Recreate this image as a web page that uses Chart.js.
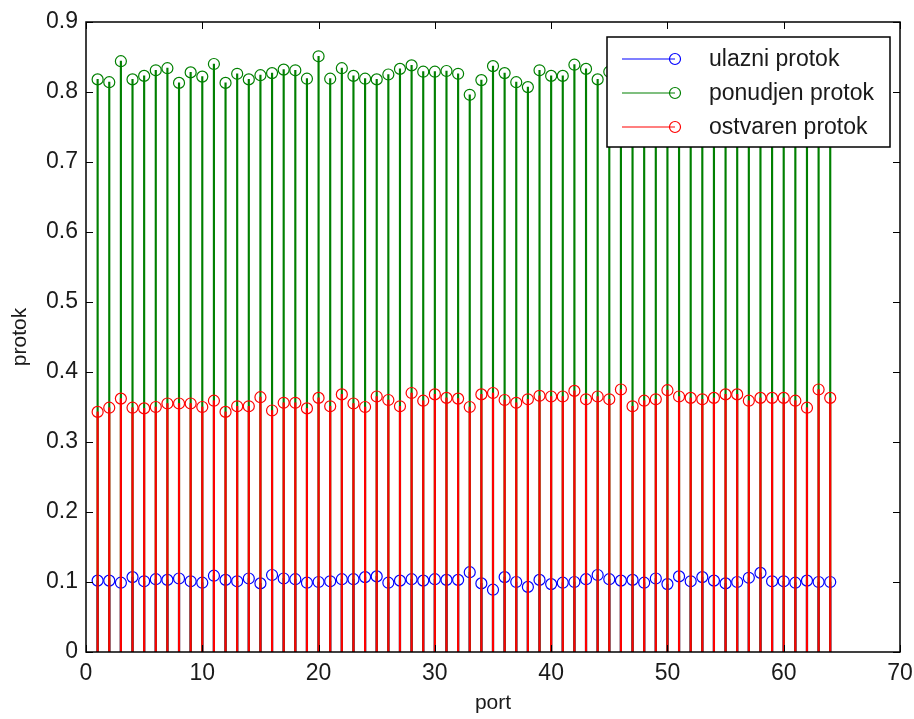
<!DOCTYPE html>
<html>
<head>
<meta charset="utf-8">
<script src="https://cdn.jsdelivr.net/npm/chart.js@4.4.1/dist/chart.umd.min.js"></script>
<style>
    html, body { margin: 0; padding: 0; background: #fff; }
    #wrap { width: 914px; height: 719px; }
</style>
</head>
<body>
<div id="wrap"><canvas id="stemChart"></canvas></div>
<script>
// port numbers on the x axis
const ports = [1, 2, 3, 4, 5, 6, 7, 8, 9, 10, 11, 12, 13, 14, 15, 16,
    17, 18, 19, 20, 21, 22, 23, 24, 25, 26, 27, 28, 29, 30, 31, 32,
    33, 34, 35, 36, 37, 38, 39, 40, 41, 42, 43, 44, 45, 46, 47, 48,
    49, 50, 51, 52, 53, 54, 55, 56, 57, 58, 59, 60, 61, 62, 63, 64];

// ulazni protok (blue)
const ulazni = [0.102, 0.102, 0.099, 0.107, 0.101, 0.104, 0.103, 0.105, 0.101, 0.099, 0.109, 0.103, 0.101, 0.105, 0.098, 0.110,
    0.105, 0.104, 0.099, 0.100, 0.101, 0.104, 0.104, 0.107, 0.108, 0.099, 0.102, 0.104, 0.102, 0.104, 0.103, 0.103,
    0.114, 0.098, 0.089, 0.107, 0.100, 0.093, 0.103, 0.097, 0.099, 0.100, 0.104, 0.110, 0.104, 0.102, 0.103, 0.099,
    0.105, 0.097, 0.108, 0.101, 0.107, 0.102, 0.098, 0.100, 0.106, 0.113, 0.101, 0.101, 0.099, 0.102, 0.100, 0.100];

// ponudjen protok (green) - 46..64 sit behind the legend, estimated
const ponudjen = [0.818, 0.814, 0.844, 0.818, 0.823, 0.831, 0.834, 0.813, 0.828, 0.822, 0.840, 0.813, 0.826, 0.818, 0.824, 0.827,
    0.832, 0.831, 0.819, 0.851, 0.819, 0.834, 0.823, 0.819, 0.818, 0.825, 0.833, 0.838, 0.829, 0.829, 0.830, 0.826,
    0.796, 0.817, 0.837, 0.827, 0.814, 0.807, 0.831, 0.823, 0.823, 0.839, 0.833, 0.818, 0.829, 0.825, 0.820, 0.828,
    0.822, 0.830, 0.819, 0.826, 0.824, 0.821, 0.829, 0.823, 0.818, 0.826, 0.822, 0.827, 0.820, 0.824, 0.829, 0.821];

// ostvaren protok (red)
const ostvaren = [0.343, 0.349, 0.362, 0.349, 0.348, 0.350, 0.355, 0.355, 0.355, 0.350, 0.359, 0.343, 0.351, 0.351, 0.364, 0.345,
    0.356, 0.356, 0.348, 0.363, 0.351, 0.368, 0.355, 0.350, 0.365, 0.360, 0.351, 0.370, 0.359, 0.368, 0.363, 0.362,
    0.350, 0.368, 0.370, 0.360, 0.356, 0.361, 0.366, 0.365, 0.365, 0.373, 0.361, 0.365, 0.361, 0.375, 0.351, 0.359,
    0.361, 0.374, 0.365, 0.363, 0.361, 0.363, 0.368, 0.368, 0.359, 0.363, 0.363, 0.363, 0.359, 0.349, 0.375, 0.363];

const seriesNames = ['ulazni protok', 'ponudjen protok', 'ostvaren protok'];
const xTicks = [0, 10, 20, 30, 40, 50, 60, 70];
const yTicks = [0, 0.1, 0.2, 0.3, 0.4, 0.5, 0.6, 0.7, 0.8, 0.9];

const COLORS = { blue: '#0000FF', green: '#008000', red: '#FF0000' };
const FONT = '"Liberation Sans", Arial, sans-serif';
const TEXT = '#1a1a1a';

const toPoints = (vals) => ports.map((p, i) => ({ x: p, y: vals[i] }));

// one stem (thin bar) + one marker set per series
const stemSet = (label, vals, color, order) => ({
    type: 'bar',
    label: label,
    data: toPoints(vals),
    backgroundColor: color,
    borderWidth: 0,
    barThickness: 1.5,
    grouped: false,
    order: order
});

const markerSet = (label, vals, color, order) => ({
    type: 'line',
    label: label,
    data: toPoints(vals),
    showLine: false,
    pointStyle: 'circle',
    pointRadius: 5.5,
    pointBorderWidth: 1.2,
    pointBorderColor: color,
    pointBackgroundColor: 'rgba(0,0,0,0)',
    order: order
});

// MATLAB style box + inward ticks
const axesBox = {
    id: 'axesBox',
    afterDatasetsDraw(chart) {
        const { ctx, chartArea: a, scales } = chart;
        const len = 7;
        ctx.save();
        ctx.strokeStyle = '#000';
        ctx.lineWidth = 1.5;
        ctx.strokeRect(a.left, a.top, a.right - a.left, a.bottom - a.top);
        ctx.lineWidth = 1;
        ctx.beginPath();
        yTicks.forEach(v => {
            const y = Math.round(scales.y.getPixelForValue(v)) + 0.5;
            ctx.moveTo(a.left, y); ctx.lineTo(a.left + len, y);
            ctx.moveTo(a.right, y); ctx.lineTo(a.right - len, y);
        });
        xTicks.forEach(v => {
            const x = Math.round(scales.x.getPixelForValue(v)) + 0.5;
            ctx.moveTo(x, a.bottom); ctx.lineTo(x, a.bottom - len);
            ctx.moveTo(x, a.top); ctx.lineTo(x, a.top + len);
        });
        ctx.stroke();
        ctx.restore();
    }
};

// legend box in the upper right corner, drawn over the stems
const boxLegend = {
    id: 'boxLegend',
    afterDraw(chart) {
        const { ctx, chartArea: a } = chart;
        const w = 283, h = 110;
        const x0 = a.right - 10 - w;
        const y0 = a.top + 15;
        const colors = [COLORS.blue, COLORS.green, COLORS.red];
        ctx.save();
        ctx.fillStyle = '#fff';
        ctx.fillRect(x0, y0, w, h);
        ctx.strokeStyle = '#000';
        ctx.lineWidth = 1.5;
        ctx.strokeRect(x0, y0, w, h);
        ctx.font = '23px ' + FONT;
        ctx.textBaseline = 'middle';
        seriesNames.forEach((name, i) => {
            const cy = y0 + 22 + i * 34;
            ctx.strokeStyle = colors[i];
            ctx.lineWidth = 1.2;
            ctx.beginPath();
            ctx.moveTo(x0 + 15, cy);
            ctx.lineTo(x0 + 68, cy);
            ctx.stroke();
            ctx.beginPath();
            ctx.arc(x0 + 68, cy, 5.5, 0, Math.PI * 2);
            ctx.stroke();
            ctx.fillStyle = TEXT;
            ctx.fillText(name, x0 + 102, cy + 1);
        });
        ctx.restore();
    }
};

const ctx = document.getElementById('stemChart').getContext('2d');
new Chart(ctx, {
    type: 'bar',
    data: {
        datasets: [
            stemSet(seriesNames[0], ulazni, COLORS.blue, 6),
            markerSet(seriesNames[0], ulazni, COLORS.blue, 5),
            stemSet(seriesNames[1], ponudjen, COLORS.green, 4),
            markerSet(seriesNames[1], ponudjen, COLORS.green, 3),
            stemSet(seriesNames[2], ostvaren, COLORS.red, 2),
            markerSet(seriesNames[2], ostvaren, COLORS.red, 1)
        ]
    },
    options: {
        responsive: true,
        maintainAspectRatio: false,
        animation: false,
        layout: { padding: { left: 0, right: 14, top: 22, bottom: 0 } },
        plugins: {
            legend: { display: false },
            tooltip: { enabled: false }
        },
        scales: {
            x: {
                type: 'linear',
                min: 0,
                max: 70,
                offset: false,
                afterFit: (s) => {
                    s.height = 67;
                    s.paddingLeft = 0;
                    s.paddingRight = 0;
                },
                afterBuildTicks: (s) => { s.ticks = xTicks.map(v => ({ value: v })); },
                grid: { display: false, drawTicks: false },
                border: { display: false },
                ticks: {
                    color: TEXT,
                    padding: 8,
                    font: { family: FONT, size: 23 },
                    maxRotation: 0,
                    callback: (v) => String(v)
                },
                title: {
                    display: true,
                    text: 'port',
                    color: TEXT,
                    font: { family: FONT, size: 21 },
                    padding: { top: 0, bottom: 3 }
                }
            },
            y: {
                min: 0,
                max: 0.9,
                afterFit: (s) => {
                    s.width = 86;
                    s.paddingTop = 0;
                    s.paddingBottom = 0;
                },
                afterBuildTicks: (s) => { s.ticks = yTicks.map(v => ({ value: v })); },
                grid: { display: false, drawTicks: false },
                border: { display: false },
                ticks: {
                    color: TEXT,
                    padding: 8,
                    font: { family: FONT, size: 23 },
                    callback: (v) => v === 0 ? '0' : v.toFixed(1)
                },
                title: {
                    display: true,
                    text: 'protok',
                    color: TEXT,
                    font: { family: FONT, size: 21 },
                    padding: { top: 8, bottom: 0 }
                }
            }
        }
    },
    plugins: [axesBox, boxLegend]
});
</script>
</body>
</html>
